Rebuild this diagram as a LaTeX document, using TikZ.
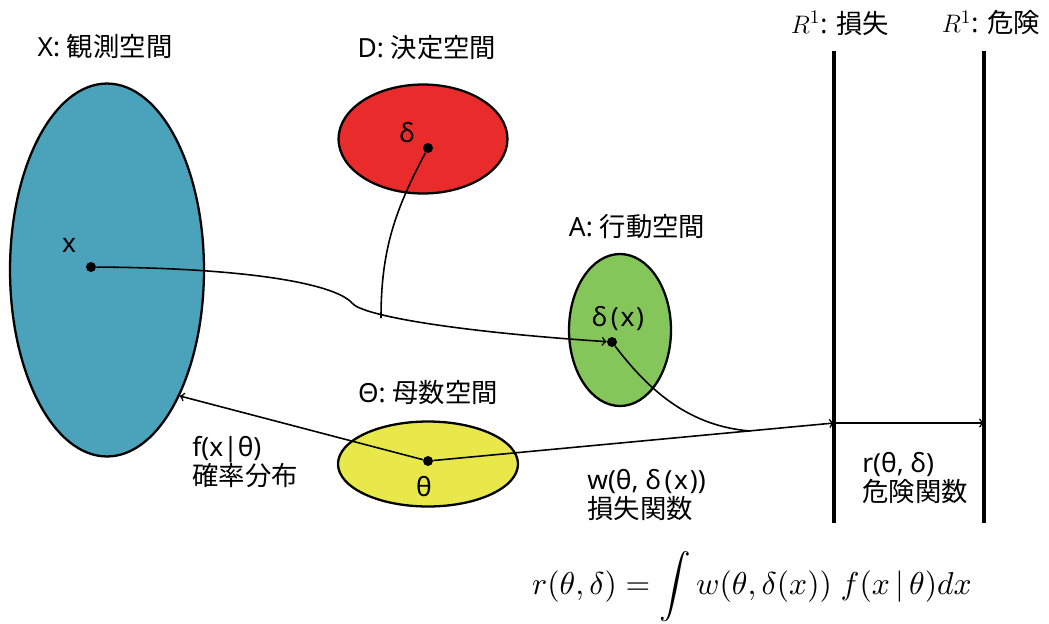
\documentclass[tikz,border=0pt]{standalone}
\usepackage{amsmath}
\usepackage{fontspec}
\setmainfont{Noto Sans}
\newfontfamily\jpfont{Noto Sans CJK JP}
\newcommand{\jp}[1]{{\jpfont #1}}
\usetikzlibrary{shapes.geometric,arrows,positioning,calc}

\definecolor{obsblue}{RGB}{74,163,186}
\definecolor{decred}{RGB}{233,43,43}
\definecolor{actgreen}{RGB}{132,198,90}
\definecolor{paryellow}{RGB}{232,232,74}

\begin{document}
\begin{tikzpicture}[x=0.02cm, y=-0.02cm,
    space/.style={ellipse, draw, line width=1.3pt, inner sep=0pt},
    pt/.style={circle, fill=black, inner sep=0pt, minimum size=0.2cm},
    lbl/.style={font=\fontsize{15}{18}\selectfont, inner sep=0pt},
    txt/.style={font=\fontsize{15}{17}\selectfont, align=left, inner sep=0pt, anchor=west},
    conn/.style={line width=0.9pt},
    axisline/.style={line width=2.4pt}
]
\useasboundingbox (0,0) rectangle (1049,623);

% Spaces
\node[space, fill=obsblue, minimum width=3.88cm, minimum height=7.46cm] (X) at (107,270) {};
\node[space, fill=decred, minimum width=3.38cm, minimum height=2.18cm] (D) at (423,139) {};
\node[space, fill=actgreen, minimum width=2.04cm, minimum height=3.04cm] (A) at (620,330) {};
\node[space, fill=paryellow, minimum width=3.6cm, minimum height=1.7cm] (T) at (428,464) {};

% Space titles
\node[lbl] (Xlabel) at (105,47) {X: \jp{観測空間}};
\node[lbl] (Dlabel) at (427,48) {D: \jp{決定空間}};
\node[lbl] (Alabel) at (637,227) {A: \jp{行動空間}};
\node[lbl] (Tlabel) at (428,393) {Θ: \jp{母数空間}};
\node[lbl] (Llabel) at (840,23) {$R^1$: \jp{損失}};
\node[lbl] (Rlabel) at (991,23) {$R^1$: \jp{危険}};

% Points
\node[pt] (xdot) at (91,267) {};
\node[pt] (ddot) at (428,148) {};
\node[pt] (adot) at (612,342) {};
\node[pt] (tdot) at (428,461) {};
\node[lbl] (xname) at (69,245) {x};
\node[lbl] (dname) at (407,133) {δ};
\node[lbl] (aname) at (618,318) {δ\kern2pt(\kern1pt x\kern1pt)};
\node[lbl] (tname) at (424,487) {θ};

% Loss and risk axes
\coordinate (losstop) at (834,51);
\coordinate (lossbot) at (834,523);
\coordinate (risktop) at (984,51);
\coordinate (riskbot) at (984,523);
\coordinate (losspt) at (834,423);
\coordinate (riskpt) at (984,423);
\draw[axisline] (losstop) -- (lossbot);
\draw[axisline] (risktop) -- (riskbot);

% Connectors
\coordinate (kink) at (352,303);
\coordinate (join) at (381,318);
\coordinate (merge) at (750,431);
\draw[conn, ->] (xdot) .. controls (250,268) and (335,284) .. (kink)
    .. controls (362,316) and (460,332) .. (adot);
\draw[conn] (ddot) .. controls (395,210) and (381,250) .. (join);
\draw[conn] (adot) .. controls (650,392) and (690,426) .. (merge);
\draw[conn, ->] (tdot) -- (X.-60);
\draw[conn, ->] (tdot) -- (losspt);
\draw[conn, ->] (losspt) -- (riskpt);

% Function labels
\node[txt] (flabel) at (192,462) {f(x|θ)\\\jp{確率分布}};
\node[txt] (wlabel) at (587,495) {w(θ, δ\kern2pt(\kern1pt x\kern1pt))\\\jp{損失関数}};
\node[txt] (rlabel) at (862,478) {r(θ, δ)\\\jp{危険関数}};

% Risk formula
\node[scale=1.8, inner sep=0pt] (formula) at (752,587)
    {$\displaystyle r(\theta,\delta) = \int w(\theta,\delta(x))\; f(x\,|\,\theta)dx$};

\end{tikzpicture}
\end{document}
